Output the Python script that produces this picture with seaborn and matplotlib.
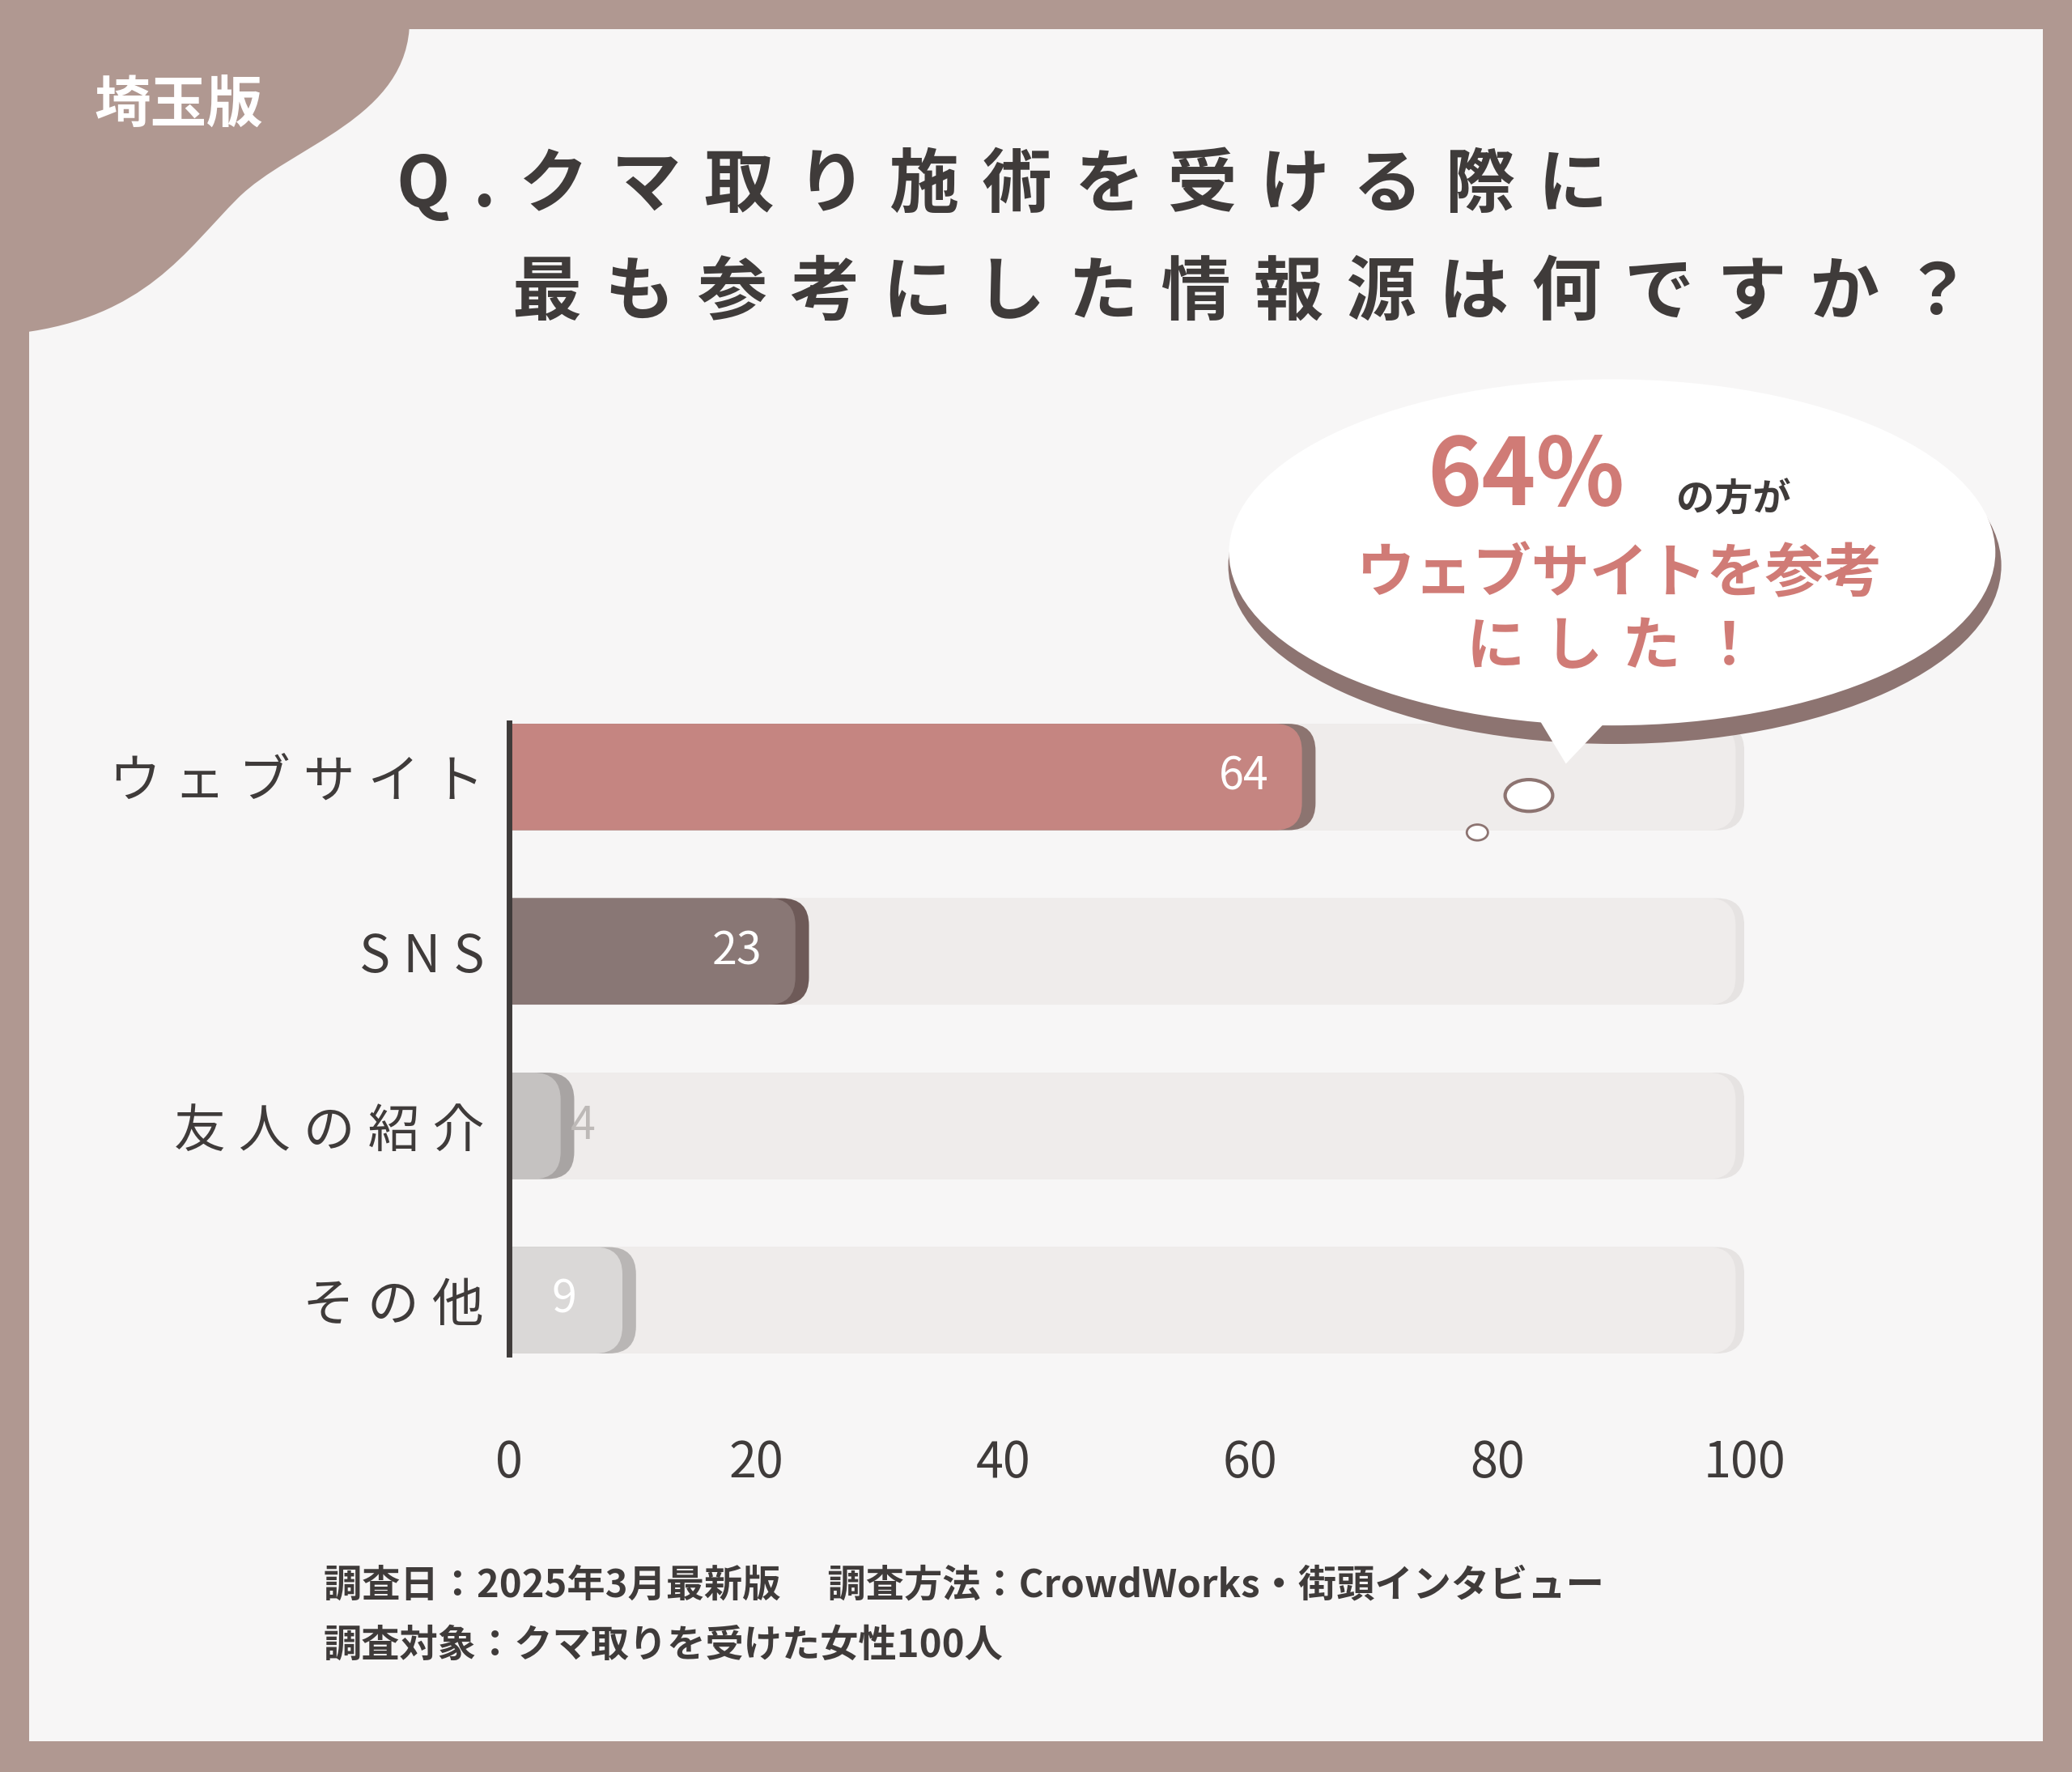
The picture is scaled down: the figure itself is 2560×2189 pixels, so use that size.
import matplotlib
matplotlib.use("Agg")
import matplotlib.pyplot as plt
import seaborn as sns
import pandas as pd
from matplotlib.patches import FancyBboxPatch, PathPatch, Rectangle, Ellipse, Polygon
from matplotlib.path import Path

plt.rcParams["font.family"] = ["Noto Sans CJK JP", "DejaVu Sans"]

# data
categories = ["ウェブサイト", "SNS", "友人の紹介", "その他"]
values = [64, 23, 4, 9]
bar_colors = ["#d07b76", "#8c7472", "#c5c2c1", "#dad8d7"]
shade_colors = ["#8c7470", "#6e5a58", "#a8a4a3", "#b9b6b5"]
xticks = [0, 20, 40, 60, 80, 100]

W, H = 1568, 1341
SP = "\u2004"


def f(x, y):
    return (x / W, 1 - y / H)


def spaced(s, sep=SP):
    return sep.join(s)


fig = plt.figure(figsize=(25.6, 21.89), dpi=100)
fig.patch.set_facecolor("#b09891")
fig.patches.append(Rectangle(f(22, 1318), 1524 / W, 1296 / H, transform=fig.transFigure,
                             facecolor="#f7f6f6", edgecolor="none", zorder=-2))

# top-left blob
verts = [f(15, 15), f(310, 15), f(310, 90), f(220, 110), f(180, 150),
         f(140, 190), f(110, 240), f(15, 252), f(15, 15)]
codes = [Path.MOVETO, Path.LINETO, Path.CURVE4, Path.CURVE4, Path.CURVE4,
         Path.CURVE4, Path.CURVE4, Path.CURVE4, Path.CLOSEPOLY]
fig.patches.append(PathPatch(Path(verts, codes), transform=fig.transFigure,
                             facecolor="#b09891", edgecolor="none", zorder=-1))
fig.text(*f(135, 80), "埼玉版", color="white", fontsize=50, fontweight="bold",
         ha="center", va="center")

title_c = "#3f3b3a"
fig.text(*f(300, 140), spaced("Q.クマ取り施術を受ける際に"), color=title_c, fontsize=62,
         fontweight="bold", ha="left", va="center")
fig.text(*f(388, 222), spaced("最も参考にした情報源は何ですか？"), color=title_c, fontsize=62,
         fontweight="bold", ha="left", va="center")

# speech bubble
fig.patches.append(Ellipse(f(1222, 428), 585 / W, 270 / H, transform=fig.transFigure,
                           facecolor="#8d7471", edgecolor="none", zorder=2))
fig.patches.append(Ellipse(f(1220, 418), 580 / W, 262 / H, transform=fig.transFigure,
                           facecolor="white", edgecolor="none", zorder=3))
fig.patches.append(Polygon([f(1150, 520), f(1240, 520), f(1185, 578)], transform=fig.transFigure,
                           facecolor="white", edgecolor="none", zorder=3))
fig.patches.append(Ellipse(f(1157, 602), 36 / W, 24 / H, transform=fig.transFigure,
                           facecolor="white", edgecolor="#8d7471", lw=3, zorder=3))
fig.patches.append(Ellipse(f(1118, 630), 16 / W, 12 / H, transform=fig.transFigure,
                           facecolor="white", edgecolor="#8d7471", lw=2, zorder=3))
pink = "#d07b76"
fig.text(*f(1155, 362), "64%", color=pink, fontsize=82, fontweight="bold",
         ha="center", va="center", zorder=5)
fig.text(*f(1312, 378), "の方が", color=title_c, fontsize=34, fontweight="bold",
         ha="center", va="center", zorder=5)
fig.text(*f(1225, 435), "ウェブサイトを参考", color=pink, fontsize=52, fontweight="bold",
         ha="center", va="center", zorder=5)
fig.text(*f(1220, 490), spaced("にした！"), color=pink, fontsize=52, fontweight="bold",
         ha="center", va="center", zorder=5)

# chart
df = pd.DataFrame({"category": categories, "value": values})
ax = fig.add_axes([385 / W, 1 - 1050 / H, 935 / W, 528 / H])
ax.set_facecolor("none")
sns.barplot(data=df.assign(full=100), x="full", y="category", color="#f0ecea",
            width=0.61, ax=ax, zorder=1)
sns.barplot(data=df, x="value", y="category", hue="category", palette=bar_colors,
            width=0.61, ax=ax, legend=False, zorder=2)

asp = (1 / 132) / (100 / 935)
bars = list(ax.patches)
for i, p in enumerate(bars):
    x, y, w, h = p.get_x(), p.get_y(), p.get_width(), p.get_height()
    fc = p.get_facecolor()
    p.set_visible(False)
    if i < len(categories):
        ax.add_patch(FancyBboxPatch((x - 3, y), w + 3, h, boxstyle="round,pad=0,rounding_size=2.2",
                                    mutation_aspect=asp, facecolor="#e6e3e2", edgecolor="none", zorder=1))
        ax.add_patch(FancyBboxPatch((x - 3, y), w + 2.3, h, boxstyle="round,pad=0,rounding_size=2.2",
                                    mutation_aspect=asp, facecolor=fc, edgecolor="none", zorder=1.1))
    else:
        k = i - len(categories)
        ax.add_patch(FancyBboxPatch((x - 3, y), w + 4.3, h, boxstyle="round,pad=0,rounding_size=2.2",
                                    mutation_aspect=asp, facecolor=shade_colors[k], edgecolor="none", zorder=2))
        ax.add_patch(FancyBboxPatch((x - 3, y), w + 3.2, h, boxstyle="round,pad=0,rounding_size=2.2",
                                    mutation_aspect=asp, facecolor=fc, edgecolor="none", zorder=2.1))

for i, v in enumerate(values):
    if v >= 20:
        ax.text(v - 2.5, i, str(v), color="white", fontsize=40, ha="right", va="center", zorder=4)
    elif v >= 8:
        ax.text(v / 2, i, str(v), color="white", fontsize=40, ha="center", va="center", zorder=4)
    else:
        ax.text(v + 1.0, i, str(v), color="#bdb9b7", fontsize=40, ha="left", va="center", zorder=4)

ax.set_xlim(0, 100)
ax.set_ylim(3.5, -0.5)
ax.set_xticks(xticks)
ax.set_xticklabels([str(t) for t in xticks])
ax.set_yticks(range(len(categories)))
ax.set_yticklabels([spaced(c, "\u2005") for c in categories])
ax.set_xlabel("")
ax.set_ylabel("")
ax.tick_params(axis="x", length=0, labelsize=44, labelcolor=title_c, pad=45)
ax.tick_params(axis="y", length=0, labelsize=46, labelcolor=title_c, pad=22)
for s in ["top", "right", "bottom"]:
    ax.spines[s].set_visible(False)
ax.spines["left"].set_color(title_c)
ax.spines["left"].set_linewidth(5)
ax.spines["left"].set_bounds(-0.31, 3.31)
ax.spines["left"].set_zorder(5)

fig.text(*f(245, 1200), "調査日：2025年3月最新版　 調査方法：CrowdWorks・街頭インタビュー",
         color=title_c, fontsize=34, fontweight="bold", ha="left", va="center")
fig.text(*f(245, 1245), "調査対象：クマ取りを受けた女性100人",
         color=title_c, fontsize=34, fontweight="bold", ha="left", va="center")

fig.savefig("out.png", dpi=100)
